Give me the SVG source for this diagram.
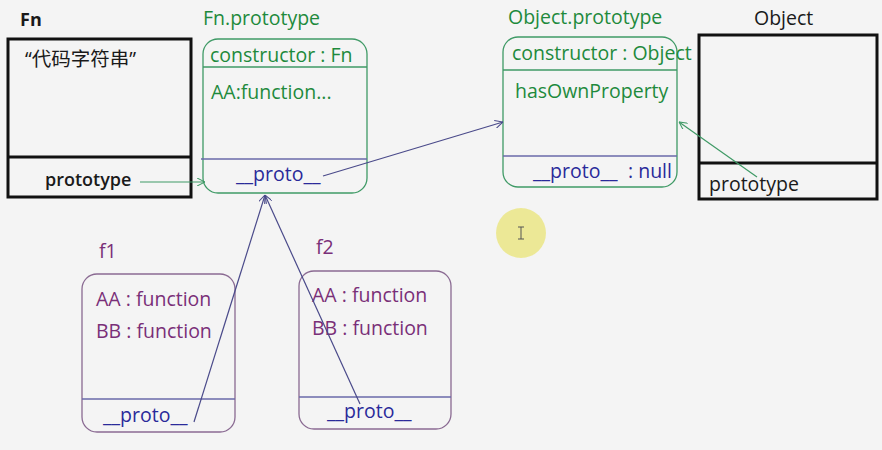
<svg xmlns="http://www.w3.org/2000/svg" width="882" height="450" viewBox="0 0 882 450">
<defs>
<style>
text{font-family:"Open Sans","Noto Sans","Noto Sans CJK SC",sans-serif;font-size:19.5px}
.blk{fill:#1a1a1a}
.grn{fill:#1e8a3c}
.pur{fill:#7a2f78}
.blu{fill:#2a2a9a}
.fnbox{fill:none;stroke:#111;stroke-width:3}
.gbox{fill:none;stroke:#3f9a66;stroke-width:1.3}
.pbox{fill:none;stroke:#8a6a92;stroke-width:1.3}
.gdiv{stroke:#3f9a66;stroke-width:1.3}
.bdiv{stroke:#6a6aaa;stroke-width:1.5}
.pdiv{stroke:#6a6aaa;stroke-width:1.3}
.gline{fill:none;stroke:#3f9a66;stroke-width:1.2}
.bline{fill:none;stroke:#4a4a8a;stroke-width:1.2}
</style>
<marker id="ag" viewBox="0 0 10 10" refX="10" refY="5" markerWidth="8" markerHeight="8" orient="auto" markerUnits="userSpaceOnUse">
<path d="M0,0 L10,5 L0,10" fill="none" stroke="#3f9a66" stroke-width="1.3"/>
</marker>
<marker id="ab" viewBox="0 0 10 10" refX="10" refY="5" markerWidth="8" markerHeight="8" orient="auto" markerUnits="userSpaceOnUse">
<path d="M0,0 L10,5 L0,10" fill="none" stroke="#4a4a8a" stroke-width="1.3"/>
</marker>
</defs>
<rect width="882" height="450" fill="#f4f4f4"/>

<g id="Fn">
<text x="20" y="26" class="blk" style="font-weight:bold;font-size:18px">Fn</text>
<rect x="8" y="39" width="183" height="158" class="fnbox"/>
<line x1="8" y1="157" x2="191" y2="157" class="fnbox"/>
<text x="25" y="66" class="blk">“代码字符串”</text>
<text x="45" y="186" class="blk" style="font-weight:600;font-size:18px">prototype</text>
</g>

<g id="Fn.prototype">
<text x="203" y="25" class="grn">Fn.prototype</text>
<rect x="203" y="39" width="164" height="154" rx="15" class="gbox"/>
<line x1="203" y1="67" x2="367" y2="67" class="gdiv"/>
<line x1="201" y1="159" x2="367" y2="159" class="bdiv"/>
<text x="210" y="62" class="grn">constructor : Fn</text>
<text x="211" y="99" class="grn">AA:function...</text>
<text x="236" y="181" class="blu">__proto__</text>
</g>

<g id="Object.prototype">
<text x="508" y="24" class="grn">Object.prototype</text>
<rect x="503" y="37" width="174" height="150" rx="15" class="gbox"/>
<line x1="503" y1="70" x2="677" y2="70" class="gdiv"/>
<line x1="503" y1="156" x2="677" y2="156" class="bdiv"/>
<text x="512" y="60" class="grn">constructor : Object</text>
<text x="515" y="98" class="grn">hasOwnProperty</text>
<text x="533" y="178" class="blu">__proto__</text>
<text x="628" y="178" class="blu">: null</text>
</g>

<g id="Object">
<text x="754" y="25" class="blk">Object</text>
<rect x="699" y="35" width="178" height="164" class="fnbox"/>
<line x1="699" y1="163" x2="877" y2="163" class="fnbox"/>
<text x="709" y="191" class="blk">prototype</text>
</g>

<g id="f1">
<text x="99" y="258" class="pur">f1</text>
<rect x="82" y="274" width="153" height="158" rx="15" class="pbox"/>
<line x1="82" y1="399" x2="235" y2="399" class="pdiv"/>
<text x="96" y="306" class="pur">AA : function</text>
<text x="96" y="338" class="pur">BB : function</text>
<text x="103" y="422" class="blu">__proto__</text>
</g>

<g id="f2">
<text x="316" y="254" class="pur">f2</text>
<rect x="299" y="271" width="152" height="158" rx="15" class="pbox"/>
<line x1="299" y1="397" x2="451" y2="397" class="pdiv"/>
<text x="312" y="302" class="pur">AA : function</text>
<text x="312" y="335" class="pur">BB : function</text>
<text x="327" y="418" class="blu">__proto__</text>
</g>

<g id="connectors">
<line x1="140" y1="182" x2="205" y2="182" class="gline" marker-end="url(#ag)"/>
<line x1="323" y1="176" x2="503" y2="122" class="bline" marker-end="url(#ab)"/>
<line x1="757" y1="177" x2="679" y2="122" class="gline" marker-end="url(#ag)"/>
<line x1="194" y1="422" x2="265" y2="195" class="bline" marker-end="url(#ab)"/>
<line x1="360" y1="404" x2="265" y2="195" class="bline" marker-end="url(#ab)"/>
</g>

<g id="cursor">
<circle cx="521" cy="233" r="25" fill="#ebe78c" opacity="0.9"/>
<path d="M518,227 h6 M521,227 v12 M518,239 h6" stroke="#555" stroke-width="1" fill="none"/>
</g>
</svg>
